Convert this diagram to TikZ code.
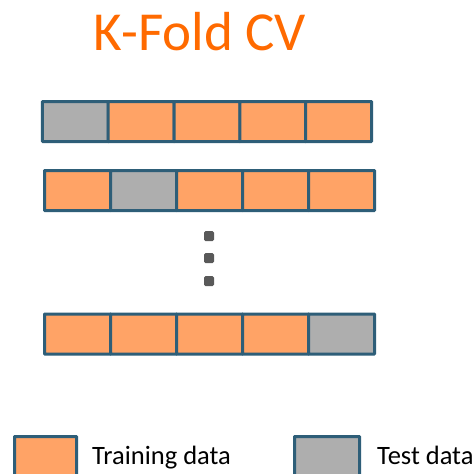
\documentclass[tikz,border=0pt]{standalone}
\usepackage{fontspec}
\setmainfont{Carlito}
\definecolor{trainc}{HTML}{FFA366}
\definecolor{testc}{HTML}{AEAEAE}
\definecolor{edgec}{HTML}{2E5E78}
\definecolor{titlec}{HTML}{FF6A00}
\definecolor{dotc}{HTML}{595959}
\tikzset{
  cell/.style={draw=edgec, line width=3pt, rectangle, inner sep=0pt, minimum width=66pt, minimum height=40pt, rounded corners=0.5pt},
  train/.style={cell, fill=trainc},
  test/.style={cell, fill=testc},
  dotbox/.style={fill=dotc, rectangle, rounded corners=1.5pt, minimum size=10pt, inner sep=0pt},
  legtext/.style={anchor=base west, inner sep=0pt, font=\fontsize{26.5}{30}\selectfont}
}
\begin{document}
\begin{tikzpicture}[x=1pt,y=-1pt]
\clip (0,0) rectangle (475,474);
\fill[white] (0,0) rectangle (475,474);
\node[anchor=base, inner sep=0pt, text=titlec, font=\fontsize{55}{60}\selectfont] (title) at (200,50) {K-Fold CV};
% row 1
\node[test]  (a1) at (75.4,121.5) {};
\node[train] (a2) at (141.2,121.5) {};
\node[train] (a3) at (207.0,121.5) {};
\node[train] (a4) at (272.8,121.5) {};
\node[train] (a5) at (338.6,121.5) {};
% row 2
\node[train] (b1) at (77.5,190.5) {};
\node[test]  (b2) at (143.5,190.5) {};
\node[train] (b3) at (209.5,190.5) {};
\node[train] (b4) at (275.5,190.5) {};
\node[train] (b5) at (341.5,190.5) {};
% dots
\node[dotbox] (d1) at (209,236) {};
\node[dotbox] (d2) at (209,258) {};
\node[dotbox] (d3) at (209,281) {};
% row 3
\node[train] (c1) at (77.5,334) {};
\node[train] (c2) at (143.5,334) {};
\node[train] (c3) at (209.5,334) {};
\node[train] (c4) at (275.5,334) {};
\node[test]  (c5) at (341.5,334) {};
% legend
\node[cell, fill=trainc, minimum width=62pt, minimum height=60pt] (ltrain) at (45.5,466.5) {};
\node[cell, fill=testc, minimum width=65pt, minimum height=60pt] (ltest) at (327,466.5) {};
\node[legtext] (ttrain) at (92,464) {Training data};
\node[legtext] (ttest) at (377,464) {Test data};
\end{tikzpicture}
\end{document}
